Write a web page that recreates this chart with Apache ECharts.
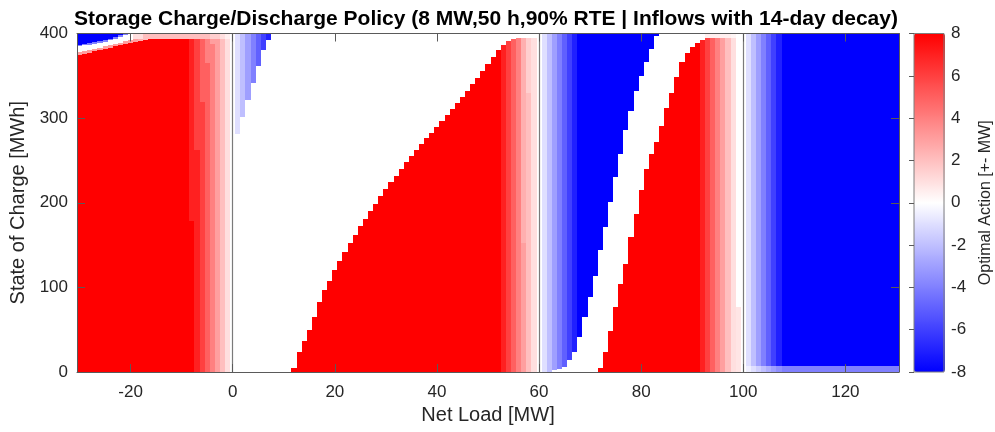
<!DOCTYPE html>
<html><head><meta charset="utf-8">
<script src="https://cdn.jsdelivr.net/npm/echarts@6/dist/echarts.min.js"></script>
<style>html,body{margin:0;padding:0;background:#fff}#c{width:995px;height:432px}</style>
</head><body><div id="c"></div>
<script>
// ---------------- DATA ----------------
const chartTitle = 'Storage Charge/Discharge Policy (8 MW,50 h,90% RTE | Inflows with 14-day decay)';
const xName = 'Net Load [MW]';
const yName = 'State of Charge [MWh]';
const cbName = 'Optimal Action [+- MW]';

// Net-load grid (one column per MW)
const netLoad = [-30,-29,-28,-27,-26,-25,-24,-23,-22,-21,-20,-19,-18,-17,-16,-15,-14,-13,-12,-11,-10,-9,-8,-7,-6,-5,-4,-3,-2,-1,0,
  1,2,3,4,5,6,7,8,9,10,11,12,13,14,15,16,17,18,19,20,21,22,23,24,25,26,27,28,29,30,31,32,33,34,35,36,37,38,39,40,
  41,42,43,44,45,46,47,48,49,50,51,52,53,54,55,56,57,58,59,60,61,62,63,64,65,66,67,68,69,70,71,72,73,74,75,76,77,78,79,80,
  81,82,83,84,85,86,87,88,89,90,91,92,93,94,95,96,97,98,99,100,101,102,103,104,105,106,107,108,109,110,111,112,113,114,115,116,117,118,119,120,
  121,122,123,124,125,126,127,128,129,130];

// Each column: [action from SOC 0, SOC break, next action, SOC break, next action, ...] up to SOC max
// Net load -30 .. 0
const segChargeZone = [
  [8,375,3,378,0,385,-4,387,-8],
  [8,376,3,379,0,386,-4,388,-8],
  [8,377,3,380,0,387,-4,389,-8],
  [8,379,3,382,0,388,-4,390,-8],
  [8,380,3,383,0,389,-4,391,-8],
  [8,382,3,385,0,390,-4,392,-8],
  [8,383,3,386,0,392,-4,394,-8],
  [8,385,3,388,0,394,-4,396,-8],
  [8,386,3,389,0,396,-4,398,-8],
  [8,388,3,391,0,398,-4],
  [8,389,3,392,0],
  [8,390,3,393,1],
  [8,391,2.5,394,1],
  [8,392,2],
  [8,393,2],
  [8,393,2],
  [8,393,2],
  [8,393,2],
  [8,393,2],
  [8,393,2],
  [8,393,2],
  [8,393,2],
  [8,179,7,393,2],
  [7,262,6,393,2],
  [6,319,5,393,2],
  [5,365,4,393,2],
  [4,388,3,394,1.5],
  [3,394,1.5],
  [2,394,1],
  [1,394,0.5],
  [0]
];
// Net load 1 .. 60
const segMidZone = [
  [0,281,-1],[0,301,-2],[0,322,-3],[0,342,-4],[0,362,-5],[0,380,-6],[0,392,-7],
  [0],[0],[0],[0],
  [8,5,0],[8,24,0],[8,37,0],[8,50,0],[8,65,0],[8,83,0],[8,97,0],[8,108,0],[8,120,0],
  [8,131,0],[8,142,0],[8,152,0],[8,162,0],[8,172,0],[8,181,0],[8,190,0],[8,199,0],[8,208,0],[8,216,0],
  [8,224,0],[8,232,0],[8,240,0],[8,248,0],[8,255,0],[8,262,0],[8,269,0],[8,276,0],[8,283,0],[8,290,0],
  [8,297,0],[8,304,0],[8,311,0],[8,318,0],[8,325,0],[8,332,0],[8,340,0],[8,348,0],[8,356,0],[8,364,0],
  [8,372,0],[8,380,0],
  [7,387,0],[6,391,0],[5,394,0],[4,395,0],[3,152,2.5,395,0],[2,330,1.5,395,0],[1,395,0],
  [0]
];
// Net load 61 .. 100
const segPeakZone = [
  [-1],[-2],[0,2,-3],[0,3,-4],[0,6,-5],[0,14,-6],[0,24,-7],
  [0,41,-8],[0,65,-8],[0,89,-8],[0,114,-8],
  [8,5,0,144,-8],[8,24,0,171,-8],[8,49,0,201,-8],[8,77,0,231,-8],[8,104,0,258,-8],
  [8,128,0,286,-8],[8,160,0,308,-8],[8,187,0,332,-8],[8,215,0,350,-8],[8,240,0,366,-8],
  [8,258,0,382,-8],[8,272,0,397,-8],
  [8,291,0],[8,312,0],[8,330,0],[8,349,0],[8,366,0],[8,377,0],[8,384,0],[8,389,0],
  [7,392,0],[6,395,0.5],[5,395,0.5],[4,395,0.5],[3,395,0.5],[2,395,0.5],[1,395,0.3],[0.8,77,0],
  [0]
];
// Net load 101 .. 130
const segHighZone = [
  [-0.5,7,-1],[-1,7,-2],[-1.5,7,-3],[-2,7,-4],[-2.5,7,-5],[-3,7,-6],[-3.5,7,-7],
  [-4,7,-8],[-4,7,-8],[-4,7,-8],[-4,7,-8],[-4,7,-8],[-4,7,-8],[-4,7,-8],[-4,7,-8],
  [-4,7,-8],[-4,7,-8],[-4,7,-8],[-4,7,-8],[-4,7,-8],[-4,7,-8],[-4,7,-8],[-4,7,-8],
  [-4,7,-8],[-4,7,-8],[-4,7,-8],[-4,7,-8],[-4,7,-8],[-4,7,-8],[-4,7,-8]
];

const xTicks = [-20,0,20,40,60,80,100,120];
const yTicks = [0,100,200,300,400];
const colorTicks = [-8,-6,-4,-2,0,2,4,6,8];
const thresholds = [0,60,100];

// ---------------- BUILD ----------------
const socMax = yTicks[yTicks.length-1];
const segments = [];
const allCols = segChargeZone.concat(segMidZone, segPeakZone, segHighZone);
allCols.forEach(function(list, i){
  const x = netLoad[i];
  let start = 0, val = list[0];
  for (let k = 1; k < list.length; k += 2) {
    segments.push([x, start, list[k], val]);
    start = list[k]; val = list[k+1];
  }
  segments.push([x, start, socMax, val]);
});

const FONT = '"Liberation Sans", Arial, Helvetica, sans-serif';
const AX = '#5a5a5a';
const TXT = '#262626';

const chart = echarts.init(document.getElementById('c'), null, {renderer:'canvas'});
const option = {
  animation: false,
  backgroundColor: '#ffffff',
  graphic: [{
    type: 'text', x: 486, y: 19, z: 20,
    style: {text: chartTitle, font: 'bold 21px ' + FONT, fill: '#000', textAlign: 'center', textVerticalAlign: 'middle'}
  }],
  grid: [
    {left: 77, top: 33.5, width: 822, height: 338.5},
    {left: 914, top: 33.5, width: 31, height: 338.5, show: true, borderColor: '#7f7f7f', borderWidth: 1, z: 10, backgroundColor: 'transparent'}
  ],
  xAxis: [
    {type: 'value', gridIndex: 0, min: -30.5, max: 130.5, position: 'bottom', z: 10,
     name: xName, nameLocation: 'middle', nameGap: 29,
     nameTextStyle: {fontSize: 20, color: TXT, fontFamily: FONT},
     axisLine: {show: true, onZero: false, lineStyle: {color: AX, width: 1}},
     axisTick: {show: true, inside: true, length: 8, customValues: xTicks, lineStyle: {color: AX}},
     axisLabel: {customValues: xTicks, fontSize: 17, color: TXT, margin: 12, fontFamily: FONT},
     splitLine: {show: false}},
    {type: 'value', gridIndex: 0, min: -30.5, max: 130.5, position: 'top', z: 10,
     axisLine: {show: true, onZero: false, lineStyle: {color: AX, width: 1}},
     axisTick: {show: true, inside: true, length: 8, customValues: xTicks, lineStyle: {color: AX}},
     axisLabel: {show: false, customValues: xTicks},
     splitLine: {show: false}},
    {type: 'value', gridIndex: 1, show: false, min: 0, max: 1}
  ],
  yAxis: [
    {type: 'value', gridIndex: 0, min: yTicks[0], max: socMax, interval: 100, position: 'left', z: 10,
     name: yName, nameLocation: 'middle', nameGap: 46, nameRotate: 90,
     nameTextStyle: {fontSize: 20, color: TXT, fontFamily: FONT},
     axisLine: {show: true, onZero: false, lineStyle: {color: AX, width: 1}},
     axisTick: {show: true, inside: true, length: 8, lineStyle: {color: AX}},
     axisLabel: {fontSize: 17, color: TXT, margin: 9, fontFamily: FONT},
     splitLine: {show: false}},
    {type: 'value', gridIndex: 0, min: yTicks[0], max: socMax, interval: 100, position: 'right', z: 10,
     axisLine: {show: true, onZero: false, lineStyle: {color: AX, width: 1}},
     axisTick: {show: true, inside: true, length: 8, lineStyle: {color: AX}},
     axisLabel: {show: false},
     splitLine: {show: false}},
    {type: 'value', gridIndex: 1, min: colorTicks[0], max: colorTicks[colorTicks.length-1], interval: 2, position: 'right', z: 12,
     name: cbName, nameLocation: 'middle', nameGap: 34, nameRotate: 90,
     nameTextStyle: {fontSize: 16, color: TXT, fontFamily: FONT},
     axisLine: {show: false},
     axisTick: {show: true, inside: true, length: 5, lineStyle: {color: AX}},
     axisLabel: {fontSize: 17, color: TXT, margin: 7, fontFamily: FONT},
     splitLine: {show: false}}
  ],
  visualMap: {
    type: 'continuous', min: colorTicks[0], max: colorTicks[colorTicks.length-1],
    dimension: 3, seriesIndex: 0, calculable: false, hoverLink: false,
    orient: 'vertical', left: 914, top: 33.5, itemWidth: 31, itemHeight: 338.5, padding: 0,
    text: null, showLabel: false,
    inRange: {color: ['#0000ff', '#ffffff', '#ff0000']}
  },
  series: [
    {type: 'custom', coordinateSystem: 'cartesian2d', xAxisIndex: 0, yAxisIndex: 0, clip: true,
     encode: {x: 0, y: [1, 2]}, data: segments, z: 2, silent: true, progressive: 0,
     renderItem: function(params, api){
       const x = api.value(0), y0 = api.value(1), y1 = api.value(2);
       const p0 = api.coord([x - 0.5, y1]);
       const p1 = api.coord([x + 0.5, y0]);
       const L = Math.round(p0[0]), R = Math.round(p1[0]);
       const T = Math.round(p0[1]), B = Math.round(p1[1]);
       return {type: 'rect',
         shape: {x: L, y: T, width: Math.max(0, R - L), height: Math.max(0, B - T)},
         style: {fill: api.visual('color'), stroke: null, lineWidth: 0}};
     }},
    {type: 'line', xAxisIndex: 0, yAxisIndex: 0, data: [], silent: true, z: 5,
     markLine: {silent: true, symbol: ['none','none'], label: {show: false}, animation: false,
       lineStyle: {color: '#7a7a7a', width: 1.2, type: 'solid'},
       data: thresholds.map(function(v){ return {xAxis: v}; })}}
  ]
};
chart.setOption(option);
</script></body></html>
